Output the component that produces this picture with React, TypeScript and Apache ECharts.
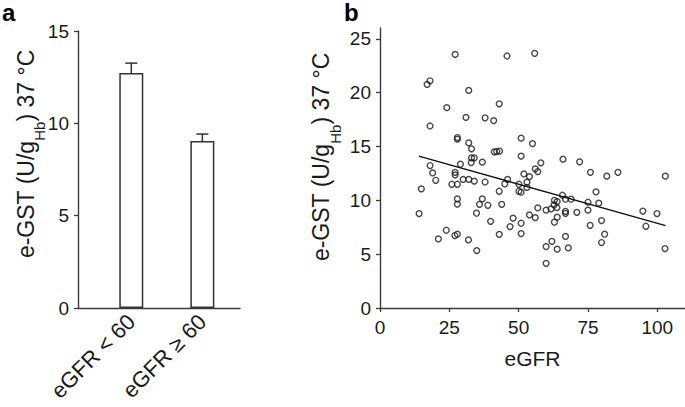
import React, { useEffect, useRef } from "react";
import * as echarts from "echarts";

// Panel a: bar chart
const barCategories = ["eGFR < 60", "eGFR \u2265 60"];
const barSlots = [0.75, 1.75];
const barMeans = [12.72, 9.04];
const barErrors = [0.54, 0.38];

// Panel b: scatter
const eGFR = [
  27.1, 45.8, 55.8, 17.0, 18.05, 32.0, 24.1, 43.0, 31.0, 37.9, 41.0, 18.05, 27.9, 27.9, 50.9, 32.0,
  55.0, 33.0, 41.2, 42.1, 43.1, 50.9, 33.0, 34.0, 32.9, 36.9, 66.0, 72.0, 18.05, 29.0, 58.0, 56.0,
  56.9, 27.1, 27.1, 19.0, 51.9, 53.9, 75.9, 81.8, 85.8, 102.9, 20.1, 30.0, 32.0, 34.0, 37.9, 46.0,
  53.0, 25.9, 27.9, 45.0, 50.1, 53.0, 14.9, 43.0, 50.1, 50.9, 77.9, 65.8, 14.1, 21.05, 23.9, 27.0,
  27.9, 31.9, 27.9, 27.9, 34.9, 34.8, 35.9, 36.9, 38.9, 39.9, 43.0, 43.9, 48.0, 46.9, 50.9, 50.9,
  53.9, 56.0, 56.9, 59.9, 59.9, 59.9, 62.0, 61.7, 62.9, 62.9, 63.9, 62.8, 63.8, 63.9, 63.9, 66.9,
  66.9, 66.9, 66.9, 67.9, 68.9, 71.0, 75.0, 75.0, 75.8, 78.9, 79.9, 79.9, 81.0, 94.8, 95.9, 99.9,
  102.8,
];
const eGST = [
  23.55, 23.4, 23.65, 20.76, 21.1, 20.2, 18.6, 18.96, 17.7, 17.66, 17.4, 16.9, 15.83, 15.68, 15.77, 15.33,
  15.27, 14.78, 14.5, 14.53, 14.57, 14.1, 13.94, 13.94, 13.5, 13.54, 13.82, 13.57, 13.23, 13.35, 13.48, 12.92,
  12.67, 12.6, 12.36, 12.54, 12.45, 12.2, 12.6, 12.24, 12.6, 12.24, 11.86, 11.94, 11.94, 11.78, 11.7, 11.94,
  11.68, 11.49, 11.49, 11.52, 11.49, 11.2, 11.06, 10.84, 10.84, 10.75, 10.78, 10.47, 8.77, 6.41, 7.22, 6.73,
  6.85, 6.32, 10.13, 9.64, 5.33, 8.8, 9.63, 10.13, 9.54, 8.05, 6.84, 9.63, 8.34, 7.56, 7.87, 6.91,
  8.64, 8.39, 9.29, 9.08, 5.7, 4.15, 6.19, 9.2, 7.97, 10.0, 9.88, 9.57, 9.32, 5.46, 8.43, 10.1,
  8.98, 8.79, 6.65, 5.58, 10.1, 8.88, 9.82, 9.08, 7.68, 9.73, 8.12, 6.08, 6.85, 9.0, 7.59, 8.77,
  5.52,
];
const regressionX = [14, 103];
const regressionY = [14.1, 7.65];
const scatterXTicks = [0, 25, 50, 75, 100];
const scatterYTicks = [0, 5, 10, 15, 20, 25];

const FONT = "'Liberation Sans', Arial, Helvetica, sans-serif";
const AXIS = "#3a3a3a";
const TEXT = "#1a1a1a";

const yTitle = "{m|e-GST (U/g}{s|Hb}{m|) 37 \u00b0C}";
const titleRich = {
  m: { fontFamily: FONT, fontSize: 23, fill: TEXT, lineHeight: 23, verticalAlign: "top" },
  s: { fontFamily: FONT, fontSize: 15, fill: TEXT, lineHeight: 15, verticalAlign: "top", padding: [18, 0, 0, 0] },
};

export default function App() {
  const ref = useRef<HTMLDivElement>(null);
  useEffect(() => {
    if (!ref.current) return;
    const chart = echarts.init(ref.current, null, { renderer: "svg" });
    const axisLine = { show: true, lineStyle: { color: AXIS, width: 1.4 } };
    const tickLabel = { fontFamily: FONT, fontSize: 19, color: TEXT };
    chart.setOption({
      animation: false,
      backgroundColor: "#ffffff",
      grid: [
        { left: 78, top: 31, width: 162, height: 277 },
        { left: 380, top: 28, width: 305, height: 280 },
      ],
      xAxis: [
        {
          gridIndex: 0,
          type: "value",
          min: 0,
          max: 2.28,
          axisLine,
          axisTick: { show: false },
          splitLine: { show: false },
          axisLabel: {
            ...tickLabel,
            fontSize: 22,
            rotate: 45,
            margin: 10,
            customValues: barSlots,
            formatter: (v: number) => {
              const i = barSlots.findIndex((s) => Math.abs(s - v) < 1e-6);
              return i >= 0 ? barCategories[i] : "";
            },
          },
        },
        {
          gridIndex: 1,
          type: "value",
          min: 0,
          max: 110,
          axisLine,
          axisTick: { show: true, length: 4, lineStyle: { color: AXIS, width: 1.3 }, customValues: scatterXTicks },
          splitLine: { show: false },
          axisLabel: { ...tickLabel, margin: 10, customValues: scatterXTicks },
          name: "eGFR",
          nameLocation: "middle",
          nameGap: 40,
          nameTextStyle: { fontFamily: FONT, fontSize: 21, color: TEXT },
        },
      ],
      yAxis: [
        {
          gridIndex: 0,
          type: "value",
          min: 0,
          max: 15,
          interval: 5,
          axisLine,
          axisTick: { show: true, length: 4, lineStyle: { color: AXIS, width: 1.3 } },
          splitLine: { show: false },
          axisLabel: { ...tickLabel, margin: 9 },
        },
        {
          gridIndex: 1,
          type: "value",
          min: 0,
          max: 26,
          axisLine,
          axisTick: { show: true, length: 4, lineStyle: { color: AXIS, width: 1.3 }, customValues: scatterYTicks },
          splitLine: { show: false },
          axisLabel: { ...tickLabel, margin: 9, customValues: scatterYTicks },
        },
      ],
      series: [
        {
          type: "bar",
          xAxisIndex: 0,
          yAxisIndex: 0,
          barWidth: 24,
          data: barSlots.map((s, i) => [s, barMeans[i]]),
          itemStyle: { color: "#ffffff", borderColor: "#333333", borderWidth: 1.5 },
        },
        {
          type: "custom",
          xAxisIndex: 0,
          yAxisIndex: 0,
          z: 5,
          data: barSlots.map((s, i) => [s, barMeans[i], barErrors[i]]),
          renderItem: (_params: any, api: any) => {
            const x = api.value(0);
            const y = api.value(1);
            const e = api.value(2);
            const base = api.coord([x, y]);
            const top = api.coord([x, y + e]);
            const st = { stroke: "#333333", lineWidth: 1.5 };
            return {
              type: "group",
              children: [
                { type: "line", shape: { x1: base[0], y1: base[1], x2: top[0], y2: top[1] }, style: st },
                { type: "line", shape: { x1: top[0] - 6, y1: top[1], x2: top[0] + 6, y2: top[1] }, style: st },
              ],
            };
          },
        },
        {
          type: "scatter",
          xAxisIndex: 1,
          yAxisIndex: 1,
          symbol: "circle",
          symbolSize: 5.8,
          data: eGFR.map((x, i) => [x, eGST[i]]),
          itemStyle: { color: "rgba(0,0,0,0)", borderColor: "#1a1a1a", borderWidth: 1.4 },
        },
        {
          type: "line",
          xAxisIndex: 1,
          yAxisIndex: 1,
          symbol: "none",
          data: regressionX.map((x, i) => [x, regressionY[i]]),
          lineStyle: { color: "#111111", width: 1.4 },
        },
      ],
      graphic: [
        { type: "text", left: 2, top: 0, style: { text: "a", fontFamily: FONT, fontSize: 24, fontWeight: "bold", fill: "#000" } },
        { type: "text", left: 344, top: 0, style: { text: "b", fontFamily: FONT, fontSize: 24, fontWeight: "bold", fill: "#000" } },
        {
          type: "text",
          x: 25.5,
          y: 154,
          rotation: Math.PI / 2,
          style: { text: yTitle, rich: titleRich, align: "center", verticalAlign: "middle", fontFamily: FONT, fontSize: 23, fill: TEXT },
        },
        {
          type: "text",
          x: 321,
          y: 157,
          rotation: Math.PI / 2,
          style: { text: yTitle, rich: titleRich, align: "center", verticalAlign: "middle", fontFamily: FONT, fontSize: 23, fill: TEXT },
        },
      ],
    });
    return () => chart.dispose();
  }, []);
  return <div ref={ref} style={{ position: "absolute", left: 0, top: 0, width: 685, height: 407 }} />;
}
